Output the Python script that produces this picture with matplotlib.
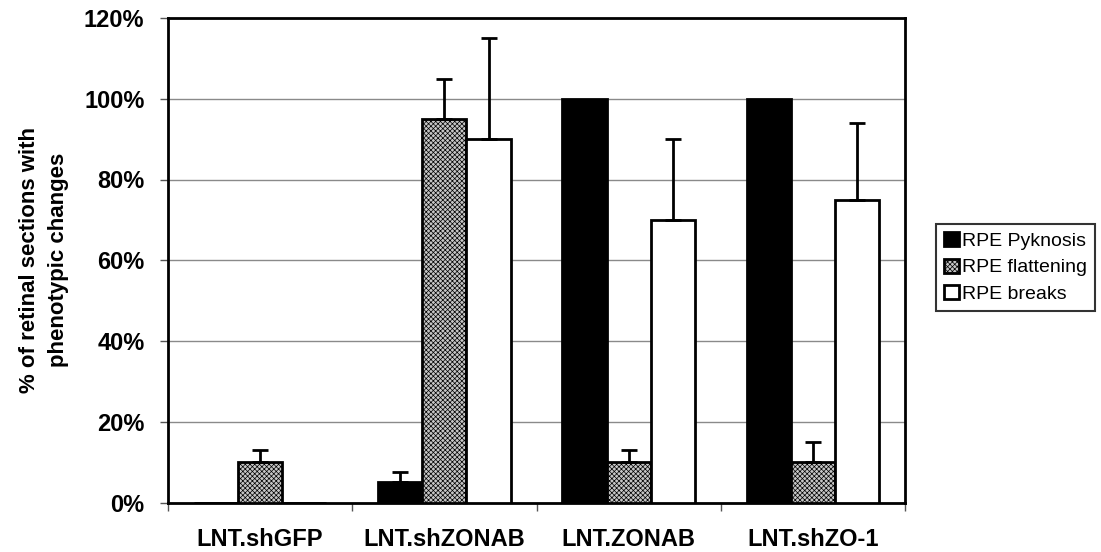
import numpy as np
import matplotlib
matplotlib.use("Agg")
import matplotlib.pyplot as plt
from matplotlib.ticker import FuncFormatter, MultipleLocator, FixedLocator

plt.rcParams['font.family'] = ['Liberation Sans', 'DejaVu Sans']
plt.rcParams['hatch.linewidth'] = 0.5
plt.rcParams['hatch.color'] = '#aaaaaa'

groups = ["LNT.shGFP", "LNT.shZONAB", "LNT.ZONAB", "LNT.shZO-1"]
series = ["RPE Pyknosis", "RPE flattening", "RPE breaks"]

pyknosis = [0, 5, 100, 100]
flattening = [10, 95, 10, 10]
breaks = [0, 90, 70, 75]

pyknosis_err = [0, 2.5, 0, 0]
flattening_err = [3, 10, 3, 5]
breaks_err = [0, 25, 20, 19]

values = [pyknosis, flattening, breaks]
errors = [pyknosis_err, flattening_err, breaks_err]
faces = ['black', '#c6c6c6', 'white']
hatches = [None, 'xxxxxxx', None]

fig = plt.figure(figsize=(11.01, 5.52), dpi=100)
ax = fig.add_axes([168 / 1101, 1 - 502.5 / 552, (905 - 168) / 1101, (502.5 - 18) / 552])

x = np.arange(len(groups))
width = 0.24
offsets = [-width, 0, width]

handles = []
for vals, errs, fc, h, off, name in zip(values, errors, faces, hatches, offsets, series):
    bars = ax.bar(x + off, vals, width, color=fc, edgecolor='black', linewidth=2,
                  hatch=h, label=name, zorder=3)
    handles.append(bars)
    for xi, v, e in zip(x + off, vals, errs):
        if e > 0:
            ax.errorbar(xi, v, yerr=[[0], [e]], fmt='none', ecolor='black',
                        elinewidth=2, capsize=6, capthick=2, zorder=4)

ax.set_xlim(-0.5, len(groups) - 0.5)
ax.set_ylim(0, 120)
ax.yaxis.set_major_locator(MultipleLocator(20))
ax.yaxis.set_major_formatter(FuncFormatter(lambda v, p: f"{int(v)}%"))
ax.grid(axis='y', color='#8a8a8a', linewidth=1, zorder=0)

ax.set_xticks(x)
ax.set_xticklabels(groups, fontsize=17, fontweight='bold')
ax.xaxis.set_minor_locator(FixedLocator(np.arange(-0.5, len(groups), 1.0)))
ax.tick_params(axis='x', which='major', length=0, pad=18)
ax.tick_params(axis='x', which='minor', length=6, width=1, color='#555555')
ax.tick_params(axis='y', which='major', length=6, width=1, color='#555555',
               labelsize=17, pad=11)
for lab in ax.get_yticklabels():
    lab.set_fontweight('bold')

for sp in ax.spines.values():
    sp.set_linewidth(2)
    sp.set_color('black')

ax.set_ylabel("% of retinal sections with\nphenotypic changes", fontsize=16,
              fontweight='bold', labelpad=11, linespacing=1.5)

leg = fig.legend(handles=handles, labels=series, loc='center left',
                 bbox_to_anchor=(936 / 1101, 1 - 267.5 / 552), fontsize=14,
                 frameon=True, fancybox=False, edgecolor='black',
                 handlelength=0.75, handleheight=0.75, handletextpad=0.15,
                 borderpad=0.42, labelspacing=0.45, borderaxespad=0)
leg.get_frame().set_linewidth(1.5)

fig.savefig("out.png", dpi=100, facecolor='white')
